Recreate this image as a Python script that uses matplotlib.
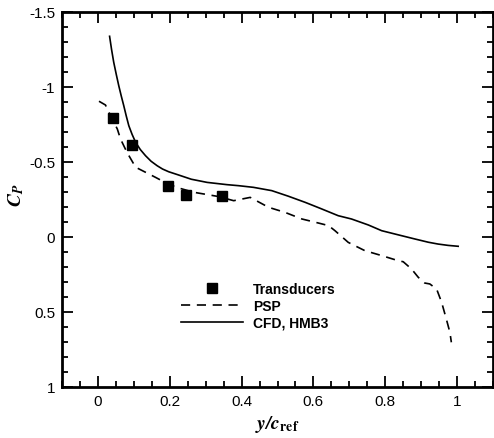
import matplotlib
matplotlib.use("Agg")
import matplotlib.pyplot as plt
from matplotlib.ticker import MultipleLocator

plt.rcParams["font.family"] = ["Liberation Sans", "DejaVu Sans"]
plt.rcParams["mathtext.fontset"] = "stix"

# Transducer measurements
trans_y = [0.042, 0.094, 0.194, 0.244, 0.346]
trans_cp = [-0.79, -0.61, -0.34, -0.28, -0.27]

# PSP (dashed)
psp_y = [0.003, 0.021, 0.035, 0.054, 0.063, 0.081, 0.105, 0.142, 0.16, 0.19,
         0.22, 0.267, 0.294, 0.335, 0.378, 0.424, 0.475, 0.521, 0.568, 0.614,
         0.642, 0.66, 0.697, 0.743, 0.79, 0.836, 0.85, 0.873, 0.892, 0.91,
         0.924, 0.943, 0.957, 0.97, 0.98, 0.984]
psp_cp = [-0.905, -0.88, -0.81, -0.72, -0.653, -0.564, -0.465, -0.42, -0.398, -0.36,
          -0.33, -0.298, -0.287, -0.27, -0.242, -0.264, -0.198, -0.164, -0.12, -0.093,
          -0.076, -0.042, 0.036, 0.091, 0.124, 0.158, 0.165, 0.213, 0.269, 0.307,
          0.313, 0.347, 0.436, 0.547, 0.636, 0.702]

# CFD, HMB3 (solid)
cfd_y = [0.0325, 0.038, 0.044, 0.051, 0.058, 0.065, 0.072, 0.079, 0.086, 0.095,
         0.105, 0.118, 0.1325, 0.148, 0.165, 0.18, 0.197, 0.225, 0.26, 0.304,
         0.359, 0.392, 0.433, 0.484, 0.53, 0.577, 0.62, 0.669, 0.706, 0.753,
         0.79, 0.84, 0.882, 0.92, 0.947, 0.975, 1.003]
cfd_cp = [-1.338, -1.25, -1.165, -1.085, -1.009, -0.94, -0.875, -0.806, -0.742, -0.685,
          -0.631, -0.583, -0.542, -0.505, -0.475, -0.453, -0.435, -0.413, -0.385, -0.364,
          -0.349, -0.342, -0.331, -0.309, -0.272, -0.231, -0.19, -0.142, -0.12, -0.08,
          -0.042, -0.012, 0.013, 0.035, 0.047, 0.056, 0.062]

fig = plt.figure(figsize=(4.94, 4.39), dpi=100)
ax = fig.add_axes([0.1255, 0.1162, 0.8725, 0.8542])

ax.plot(trans_y, trans_cp, "s", color="black", markersize=7.5, label="Transducers")
ax.plot(psp_y, psp_cp, color="black", linewidth=1.2, dashes=(5.5, 4), label="PSP")
ax.plot(cfd_y, cfd_cp, color="black", linewidth=1.2, label="CFD, HMB3")

ax.set_xlim(-0.1, 1.1)
ax.set_ylim(1.0, -1.5)
ax.xaxis.set_minor_locator(MultipleLocator(0.05))
ax.yaxis.set_minor_locator(MultipleLocator(0.1))
ax.set_xticks([0, 0.2, 0.4, 0.6, 0.8, 1.0])
ax.set_xticklabels(["0", "0.2", "0.4", "0.6", "0.8", "1"])
ax.set_yticks([-1.5, -1, -0.5, 0, 0.5, 1])
ax.set_yticklabels(["-1.5", "-1", "-0.5", "0", "0.5", "1"])

ax.tick_params(which="both", direction="in", top=True, right=True, width=1.3,
               labelsize=11, pad=5)
ax.tick_params(which="major", length=8)
ax.tick_params(which="minor", length=4.5)
for s in ax.spines.values():
    s.set_linewidth(2)

ax.set_xlabel(r"$\mathbfit{y/c}_{\mathbf{ref}}$", fontsize=14, labelpad=4)
ax.set_ylabel(r"$\mathbfit{C}_{\mathbfit{P}}$", fontsize=14)
ax.yaxis.set_label_coords(-0.084, 0.515)

ax.legend(loc="center left", bbox_to_anchor=(0.276, 0.217), frameon=False,
          borderpad=0, borderaxespad=0, handlelength=4.5, handletextpad=0.7,
          labelspacing=0.2, prop={"weight": "bold", "size": 10})

fig.savefig("out.png", dpi=100)
